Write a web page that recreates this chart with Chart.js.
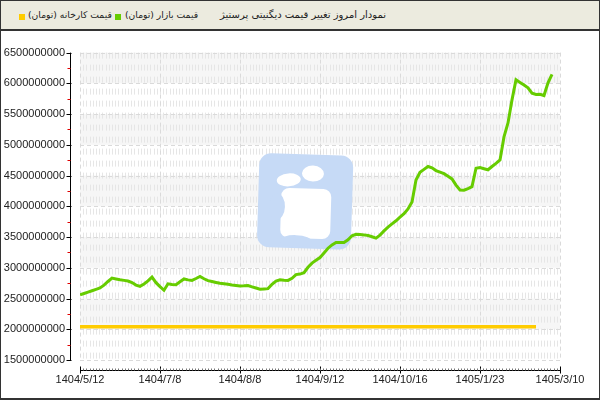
<!DOCTYPE html>
<html><head><meta charset="utf-8">
<script src="https://cdn.jsdelivr.net/npm/chart.js@4"></script>
<style>
html,body{margin:0;padding:0;background:#fff;}
#frame{position:relative;width:600px;height:400px;box-sizing:border-box;border:1px solid #333;border-bottom-width:2px;overflow:hidden;background:#fff;}
#head{position:absolute;left:0;top:0;width:598px;height:28px;background:#ecebdf;border-bottom:2px solid #333;font-family:"DejaVu Sans",sans-serif;font-size:10px;color:#222;}
.sw{position:absolute;top:13px;width:6px;height:6px;}
.txt{position:absolute;top:0;height:28px;line-height:28px;white-space:nowrap;unicode-bidi:isolate;}
.leg{font-size:9.2px;}
#wrap{position:absolute;left:0;top:30px;width:598px;height:367px;}
</style></head>
<body>
<div id="frame">
  <div id="head">
    <span class="sw" style="left:18px;background:#ffcc00"></span>
    <span class="txt leg" dir="rtl" style="left:27px">قیمت کارخانه (تومان)</span>
    <span class="sw" style="left:114px;background:#66cc00"></span>
    <span class="txt leg" dir="rtl" style="left:124px">قیمت بازار (تومان)</span>
    <span class="txt" dir="rtl" style="right:213px">نمودار امروز تغییر قیمت دیگنیتی پرستیژ</span>
  </div>
  <div id="wrap"><canvas id="c" width="598" height="367"></canvas></div>
</div>
<script>
// ---- data (values in millions of toman) ----
const UNIT = 1e6;
const tickLabels = ["1404/5/12","1404/7/8","1404/8/8","1404/9/12","1404/10/16","1405/1/23","1405/3/10"];
const categories = Array.from({length:121}, (_, i) => i); // sample index along the time axis
const marketPrice = [
 2560,2582,2605,2627,2650,2673,2718,2777,2832,2819,
 2806,2795,2784,2760,2719,2698,2737,2787,2848,2758,
 2694,2634,2739,2729,2726,2773,2818,2803,2794,2826,
 2860,2821,2790,2776,2761,2747,2739,2731,2721,2713,
 2705,2706,2710,2690,2671,2650,2655,2661,2732,2784,
 2805,2798,2794,2829,2889,2897,2919,3008,3076,3121,
 3166,3242,3318,3373,3413,3411,3411,3456,3521,3545,
 3540,3535,3526,3505,3482,3532,3600,3661,3713,3765,
 3823,3881,3956,4071,4429,4552,4600,4648,4626,4581,
 4556,4531,4487,4445,4344,4266,4263,4289,4319,4619,
 4629,4611,4594,4647,4698,4753,5129,5355,5731,6058,
 6015,5973,5926,5840,5819,5823,5802,6008,6145
];
const factoryPrice = [
 2040,2040,2040,2040,2040,2040,2040,2040,2040,2040,2040,2040,2040,2040,2040,2040,2040,2040,2040,2040,
 2040,2040,2040,2040,2040,2040,2040,2040,2040,2040,2040,2040,2040,2040,2040,2040,2040,2040,2040,2040,
 2040,2040,2040,2040,2040,2040,2040,2040,2040,2040,2040,2040,2040,2040,2040,2040,2040,2040,2040,2040,
 2040,2040,2040,2040,2040,2040,2040,2040,2040,2040,2040,2040,2040,2040,2040,2040,2040,2040,2040,2040,
 2040,2040,2040,2040,2040,2040,2040,2040,2040,2040,2040,2040,2040,2040,2040,2040,2040,2040,2040,2040,
 2040,2040,2040,2040,2040,2040,2040,2040,2040,2040,2040,2040,2040,2040,2040
];
const yMin = 1500, yMax = 6500, yStep = 500;
const xStep = 20;

// ---- decorations ----
const deco = {
  id: 'deco',
  beforeDatasetsDraw(chart) {
    const {ctx, chartArea: a, scales: {x, y}} = chart;
    ctx.save();
    const yt = y.ticks.map(t => t.value);
    for (let k = 0; k < yt.length - 1; k++) {
      if (Math.round(yt[k] / (yStep * UNIT)) % 2 === 0) {
        const p0 = y.getPixelForValue(yt[k]), p1 = y.getPixelForValue(yt[k + 1]);
        ctx.fillStyle = '#f6f6f6';
        ctx.fillRect(a.left, p1, a.right - a.left, p0 - p1);
      }
    }
    const sub = (x.getPixelForValue(xStep) - x.getPixelForValue(0)) / 25;
    ctx.strokeStyle = '#e6e6e6';
    ctx.lineWidth = 1;
    ctx.setLineDash([6, 6]);
    ctx.beginPath();
    for (let px = a.left + sub; px < a.right - 1; px += sub) {
      const xx = Math.round(px) + 0.5;
      ctx.moveTo(xx, a.top); ctx.lineTo(xx, a.bottom);
    }
    ctx.stroke();
    ctx.strokeStyle = '#dadada';
    ctx.setLineDash([4, 3]);
    ctx.beginPath();
    y.ticks.forEach(t => {
      const py = Math.round(y.getPixelForValue(t.value)) + 0.5;
      ctx.moveTo(a.left, py); ctx.lineTo(a.right, py);
    });
    x.ticks.forEach(t => {
      const px = Math.round(x.getPixelForValue(t.value)) + 0.5;
      ctx.moveTo(px, a.top); ctx.lineTo(px, a.bottom);
    });
    ctx.stroke();
    ctx.setLineDash([]);
    // watermark logo
    const W = a.right - a.left, H = a.bottom - a.top;
    const cx = a.left + W * 0.469, cy = a.top + H * 0.484;
    ctx.translate(cx, cy);
    ctx.rotate(0.03);
    const blue = 'rgb(198,218,246)';
    ctx.fillStyle = blue;
    const s = 94, r = 12;
    ctx.beginPath();
    ctx.roundRect(-s / 2, -s / 2, s, s, r);
    ctx.fill();
    ctx.fillStyle = '#ffffff';
    ctx.beginPath(); ctx.ellipse(-17, -21, 12, 6.5, -0.1, 0, Math.PI * 2); ctx.fill();
    ctx.beginPath(); ctx.ellipse(7, -28, 11, 8, 0, 0, Math.PI * 2); ctx.fill();
    ctx.beginPath();
    ctx.roundRect(-24, -13, 50, 50, 8);
    ctx.fill();
    ctx.fillStyle = blue;
    ctx.beginPath(); ctx.ellipse(-28, 6, 8, 13, 0, 0, Math.PI * 2); ctx.fill();
    ctx.beginPath(); ctx.ellipse(-8, 40, 16, 6, 0, 0, Math.PI * 2); ctx.fill();
    ctx.restore();
  },
  afterDraw(chart) {
    const {ctx, chartArea: a, scales: {x, y}} = chart;
    ctx.save();
    ctx.lineWidth = 1;
    const ax = a.left - 9.5;
    ctx.strokeStyle = '#000';
    ctx.beginPath();
    ctx.moveTo(ax, a.top); ctx.lineTo(ax, a.bottom + 1);
    y.ticks.forEach(t => {
      const py = Math.round(y.getPixelForValue(t.value)) + 0.5;
      ctx.moveTo(ax - 4, py); ctx.lineTo(ax + 1, py);
    });
    ctx.stroke();
    ctx.strokeStyle = '#e00000';
    ctx.beginPath();
    for (let k = 0; k < y.ticks.length - 1; k++) {
      const v = (y.ticks[k].value + y.ticks[k + 1].value) / 2;
      const py = Math.round(y.getPixelForValue(v)) + 0.5;
      ctx.moveTo(ax - 3, py); ctx.lineTo(ax, py);
    }
    ctx.stroke();
    const ay = a.bottom + 10.5;
    ctx.strokeStyle = '#000';
    ctx.beginPath();
    ctx.moveTo(a.left, ay); ctx.lineTo(a.right + 1, ay);
    x.ticks.forEach(t => {
      const px = Math.round(x.getPixelForValue(t.value)) + 0.5;
      ctx.moveTo(px, ay - 4); ctx.lineTo(px, ay + 3);
    });
    ctx.stroke();
    const sub = (x.getPixelForValue(xStep) - x.getPixelForValue(0)) / 25;
    ctx.strokeStyle = '#777';
    ctx.beginPath();
    for (let px = a.left + sub; px < a.right - 1; px += sub) {
      const xx = Math.round(px) + 0.5;
      ctx.moveTo(xx, ay - 2); ctx.lineTo(xx, ay);
    }
    ctx.stroke();
    ctx.restore();
  }
};

Chart.defaults.font.family = '"Liberation Sans", Arial, sans-serif';
Chart.defaults.font.size = 11;
Chart.defaults.color = '#222';

new Chart(document.getElementById('c'), {
  type: 'line',
  data: {
    labels: categories,
    datasets: [
      {label: 'قیمت کارخانه (تومان)', data: factoryPrice.map(v => v * UNIT), borderColor: '#ffcc00', backgroundColor: '#ffcc00', borderWidth: 3.5, pointRadius: 0, tension: 0},
      {label: 'قیمت بازار (تومان)', data: marketPrice.map(v => v * UNIT), borderColor: '#66cc00', backgroundColor: '#66cc00', borderWidth: 3, pointRadius: 0, tension: 0}
    ]
  },
  options: {
    responsive: false,
    animation: false,
    devicePixelRatio: 1,
    layout: {padding: {top: 19, right: 39, left: 0, bottom: 0}},
    plugins: {legend: {display: false}, tooltip: {enabled: false}, title: {display: false}},
    scales: {
      x: {
        type: 'linear', min: 0, max: categories.length - 1,
        grid: {display: false, drawTicks: false},
        border: {display: false},
        ticks: {stepSize: xStep, padding: 13, maxRotation: 0, autoSkip: false,
          callback: v => tickLabels[Math.round(v / xStep)] ?? ''},
        afterFit: s => { s.height = 38; }
      },
      y: {
        min: yMin * UNIT, max: yMax * UNIT,
        grid: {display: false, drawTicks: false},
        border: {display: false},
        ticks: {stepSize: yStep * UNIT, padding: 15, callback: v => String(Math.round(v))},
        afterFit: s => { s.width = 79; }
      }
    }
  },
  plugins: [deco]
});
</script>
</body></html>
